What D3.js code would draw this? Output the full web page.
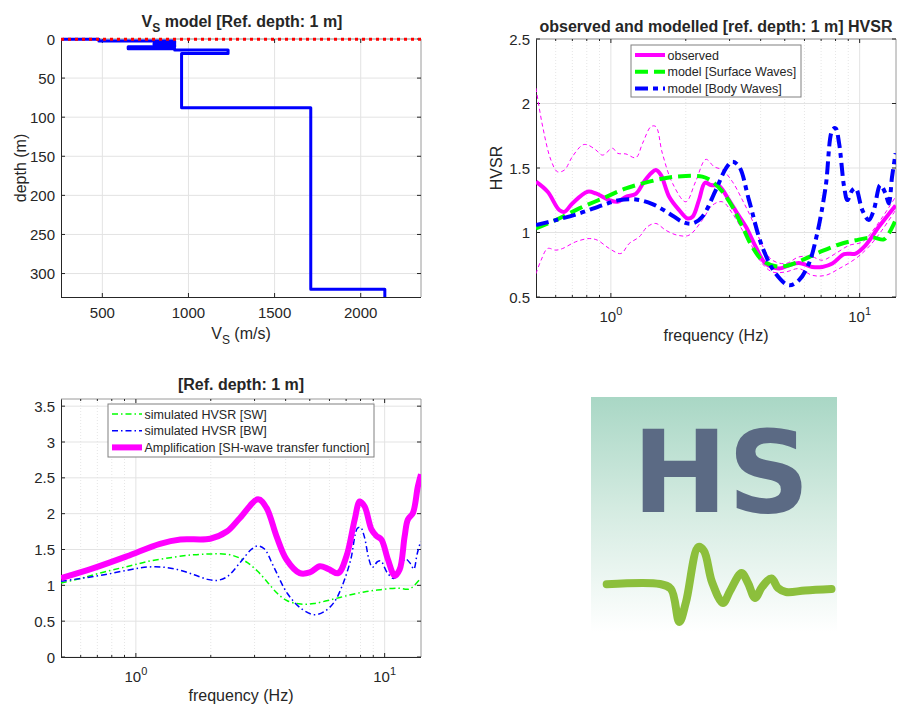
<!DOCTYPE html>
<html>
<head>
<meta charset="utf-8">
<script src="https://cdn.jsdelivr.net/npm/d3@7"></script>
<style>
body { margin: 0; background: #fff; }
text { font-family: "Liberation Sans", Arial, Helvetica, sans-serif; fill: #262626; }
</style>
</head>
<body>
<svg id="fig" width="897" height="704"></svg>
<script>
// ---- Vs profile (layer velocity, layer top depth) ----
var vsLayerVs  = [270, 480, 920, 800, 920, 650, 920, 1230, 960, 1710, 2140];
var vsLayerTop = [0, 0.3, 2.6, 5.6, 7, 9.8, 12.4, 14, 18.4, 88, 320];
var vsHalfspaceBottom = 340;
var refDepth = 1;
var vsTicks = [500, 1000, 1500, 2000];
var depthTicks = [0, 50, 100, 150, 200, 250, 300];

// ---- observed HVSR with +/- std ----
var freqObs = [0.5, 0.557, 0.62, 0.65, 0.70, 0.806, 0.87, 0.985, 1.064, 1.149, 1.26, 1.36, 1.45, 1.516, 1.588, 1.715, 1.88, 2.03, 2.13, 2.26, 2.39, 2.52, 2.72, 2.985, 3.22, 3.49, 3.82, 4.19, 4.74, 5.2, 5.7, 6.45, 7.08, 7.77, 8.66, 9.64, 10.56, 11.94, 13.95];
var hvObs   = [1.394, 1.316, 1.174, 1.16, 1.225, 1.316, 1.303, 1.251, 1.238, 1.277, 1.30, 1.394, 1.459, 1.484, 1.446, 1.277, 1.174, 1.109, 1.122, 1.251, 1.386, 1.368, 1.36, 1.251, 1.148, 1.044, 0.889, 0.759, 0.72, 0.746, 0.764, 0.733, 0.733, 0.759, 0.832, 0.837, 0.90, 1.044, 1.21];

var freqHi = [0.5, 0.532, 0.574, 0.61, 0.65, 0.70, 0.77, 0.806, 0.87, 0.926, 1.015, 1.064, 1.149, 1.26, 1.34, 1.45, 1.516, 1.61, 1.77, 2.0, 2.19, 2.41, 2.6, 2.81, 3.08, 3.38, 3.7, 4.06, 4.46, 5.04, 5.7, 6.45, 7.08, 8.0, 9.06, 10.25, 11.6, 13.95];
var hvHi   = [2.119, 1.82, 1.562, 1.471, 1.484, 1.588, 1.679, 1.679, 1.64, 1.60, 1.653, 1.614, 1.609, 1.58, 1.69, 1.821, 1.821, 1.614, 1.381, 1.238, 1.394, 1.567, 1.51, 1.484, 1.394, 1.251, 1.096, 0.90, 0.785, 0.759, 0.811, 0.811, 0.785, 0.837, 0.90, 0.927, 1.044, 1.277];

var freqLo = [0.5, 0.524, 0.557, 0.60, 0.64, 0.72, 0.818, 0.884, 0.985, 1.097, 1.185, 1.30, 1.40, 1.516, 1.66, 1.85, 2.06, 2.33, 2.56, 2.81, 3.08, 3.38, 3.7, 4.06, 4.46, 5.04, 5.7, 6.45, 7.3, 8.27, 9.64, 10.88, 12.3, 13.95];
var hvLo   = [0.681, 0.785, 0.876, 0.863, 0.876, 0.927, 0.953, 0.94, 0.876, 0.837, 0.915, 0.966, 1.044, 1.07, 1.018, 0.979, 0.979, 1.096, 1.212, 1.238, 1.148, 1.018, 0.889, 0.759, 0.694, 0.694, 0.72, 0.668, 0.668, 0.72, 0.798, 0.889, 1.018, 1.174];

// ---- modelled HVSR ----
var freqSW = [0.5, 0.60, 0.746, 0.926, 1.149, 1.426, 1.715, 2.0, 2.33, 2.56, 2.81, 3.08, 3.38, 3.7, 4.06, 4.6, 5.2, 6.06, 7.08, 8.27, 9.64, 11.24, 12.5, 13.1, 13.95];
var hvSW   = [1.031, 1.096, 1.187, 1.264, 1.342, 1.394, 1.427, 1.438, 1.433, 1.394, 1.316, 1.199, 1.044, 0.889, 0.785, 0.738, 0.746, 0.798, 0.857, 0.907, 0.94, 0.961, 0.946, 0.992, 1.096];

var freqBW = [0.5, 0.60, 0.746, 0.926, 1.08, 1.26, 1.47, 1.715, 1.94, 2.13, 2.33, 2.64, 2.9, 3.08, 3.28, 3.59, 4.06, 4.6, 5.2, 5.7, 6.25, 6.75, 7.3, 7.77, 8.0, 8.27, 8.66, 8.93, 9.35, 9.64, 10.25, 10.88, 11.4, 12.1, 12.7, 13.1, 13.5, 13.95];
var hvBW   = [1.057, 1.096, 1.148, 1.212, 1.251, 1.256, 1.22, 1.148, 1.083, 1.07, 1.122, 1.329, 1.497, 1.549, 1.51, 1.251, 0.889, 0.681, 0.591, 0.63, 0.759, 0.992, 1.355, 1.795, 1.808, 1.69, 1.355, 1.251, 1.329, 1.342, 1.174, 1.096, 1.174, 1.368, 1.303, 1.225, 1.433, 1.614];

// ---- SH-wave transfer function ----
var freqAmp = [0.5, 0.676, 0.92, 1.25, 1.51, 1.99, 2.32, 2.62, 3.10, 3.35, 3.68, 4.03, 4.56, 5.0, 5.49, 5.92, 6.5, 7.02, 7.58, 7.94, 8.31, 8.85, 9.26, 9.70, 10.31, 10.97, 11.49, 12.03, 12.4, 12.99, 13.6, 14.0];
var amp     = [1.10, 1.24, 1.405, 1.58, 1.64, 1.65, 1.75, 1.94, 2.20, 2.08, 1.68, 1.36, 1.17, 1.18, 1.265, 1.23, 1.17, 1.405, 1.92, 2.17, 2.10, 1.78, 1.69, 1.64, 1.36, 1.135, 1.22, 1.68, 1.92, 2.01, 2.38, 2.55];

var freqMajor = [1, 10];
var freqMinor = [0.6, 0.7, 0.8, 0.9, 2, 3, 4, 5, 6, 7, 8, 9];
var hvTicks = [0.5, 1, 1.5, 2, 2.5];
var ampTicks = [0, 0.5, 1, 1.5, 2, 2.5, 3, 3.5];

var svg = d3.select("#fig");
var AX = "#262626", GRID = "#e3e3e3";
var TICK_FS = 15, LABEL_FS = 16, TITLE_FS = 16;
var clipId = 0;

function zip(xs, ys) { return xs.map(function (d, i) { return [d, ys[i]]; }); }

function drawFrame(g, x, y, cfg) {
    var l = d3.min(x.range()), r = d3.max(x.range()),
        t = d3.min(y.range()), b = d3.max(y.range());
    var grid = g.append("g");
    if (cfg.xMinor) {
        grid.selectAll("line.xm").data(cfg.xMinor).enter().append("line")
            .attr("x1", x).attr("x2", x).attr("y1", t).attr("y2", b)
            .attr("stroke", "#e6e6e6").attr("stroke-dasharray", "1,2");
    }
    grid.selectAll("line.xg").data(cfg.xTicks).enter().append("line")
        .attr("x1", x).attr("x2", x).attr("y1", t).attr("y2", b).attr("stroke", GRID);
    grid.selectAll("line.yg").data(cfg.yTicks).enter().append("line")
        .attr("x1", l).attr("x2", r).attr("y1", y).attr("y2", y).attr("stroke", GRID);

    // box
    g.append("line").attr("x1", l + 0.5).attr("x2", l + 0.5).attr("y1", t).attr("y2", b + 0.5).attr("stroke", AX);
    g.append("line").attr("x1", l).attr("x2", r).attr("y1", b + 0.5).attr("y2", b + 0.5).attr("stroke", AX);
    g.append("line").attr("x1", r).attr("x2", r).attr("y1", t).attr("y2", b).attr("stroke", "#9a9a9a");
    g.append("line").attr("x1", l).attr("x2", r).attr("y1", t).attr("y2", t).attr("stroke", "#9a9a9a");

    // inward ticks on all sides
    var tk = g.append("g").attr("stroke", AX);
    var minor = cfg.xMinor || [];
    [[cfg.xTicks, 4], [minor, 2]].forEach(function (p) {
        tk.selectAll(null).data(p[0]).enter().append("line")
            .attr("x1", x).attr("x2", x).attr("y1", b).attr("y2", b - p[1]);
        tk.selectAll(null).data(p[0]).enter().append("line")
            .attr("x1", x).attr("x2", x).attr("y1", t).attr("y2", t + p[1]);
    });
    tk.selectAll(null).data(cfg.yTicks).enter().append("line")
        .attr("x1", l).attr("x2", l + 4).attr("y1", y).attr("y2", y);
    tk.selectAll(null).data(cfg.yTicks).enter().append("line")
        .attr("x1", r).attr("x2", r - 4).attr("y1", y).attr("y2", y);

    // tick labels
    var xl = g.append("g").selectAll("text").data(cfg.xTicks).enter().append("text")
        .attr("x", x).attr("y", b + cfg.xLabelDy).attr("text-anchor", "middle")
        .attr("font-size", TICK_FS);
    if (cfg.logX) {
        xl.each(function (d) {
            var s = d3.select(this);
            s.append("tspan").text("10");
            s.append("tspan").attr("dy", -7).attr("font-size", 11).text(Math.round(Math.log10(d)));
        });
    } else {
        xl.text(function (d) { return d; });
    }
    g.append("g").selectAll("text").data(cfg.yTicks).enter().append("text")
        .attr("x", l - 6).attr("y", function (d) { return y(d) + 5.5; })
        .attr("text-anchor", "end").attr("font-size", TICK_FS)
        .text(function (d) { return d; });

    clipId += 1;
    g.append("clipPath").attr("id", "clip" + clipId)
        .append("rect").attr("x", l).attr("y", t - 2).attr("width", r - l).attr("height", b - t + 2);
    return g.append("g").attr("clip-path", "url(#clip" + clipId + ")");
}

function curve(plot, x, y, data, color, width, dash) {
    var line = d3.line().x(function (d) { return x(d[0]); }).y(function (d) { return y(d[1]); })
        .curve(d3.curveCatmullRom.alpha(0.5));
    plot.append("path").datum(data).attr("d", line)
        .attr("fill", "none").attr("stroke", color).attr("stroke-width", width)
        .attr("stroke-dasharray", dash || null).attr("stroke-linejoin", "round");
}

function legend(g, x0, y0, w, h, rows, rowH, fontSize) {
    var lg = g.append("g");
    lg.append("rect").attr("x", x0).attr("y", y0).attr("width", w).attr("height", h)
        .attr("fill", "#fff").attr("stroke", "#808080").attr("stroke-width", 1);
    var row = lg.selectAll("g").data(rows).enter().append("g")
        .attr("transform", function (d, i) { return "translate(0," + (y0 + 10 + i * rowH) + ")"; });
    row.append("line").attr("x1", x0 + 4).attr("x2", x0 + 34).attr("y1", 0).attr("y2", 0)
        .attr("stroke", function (d) { return d.color; })
        .attr("stroke-width", function (d) { return d.width; })
        .attr("stroke-dasharray", function (d) { return d.dash || null; });
    row.append("text").attr("x", x0 + 36.5).attr("y", 4.5).attr("font-size", fontSize)
        .text(function (d) { return d.label; });
}

// ================= panel 1: Vs model =================
(function () {
    var g = svg.append("g");
    var x = d3.scaleLinear().domain([260, 2350]).range([61, 421]);
    var y = d3.scaleLinear().domain([0, 330]).range([39, 297]);
    var plot = drawFrame(g, x, y, { xTicks: vsTicks, yTicks: depthTicks, xLabelDy: 21 });

    var pts = [[vsLayerVs[0], 0]];
    vsLayerVs.forEach(function (v, i) {
        var bottom = i + 1 < vsLayerTop.length ? vsLayerTop[i + 1] : vsHalfspaceBottom;
        pts.push([v, vsLayerTop[i]], [v, bottom]);
    });
    plot.append("path").datum(pts)
        .attr("d", d3.line().x(function (d) { return x(d[0]); }).y(function (d) { return y(d[1]); }))
        .attr("fill", "none").attr("stroke", "#0000ff").attr("stroke-width", 3)
        .attr("stroke-linejoin", "round");
    g.append("line").attr("x1", x.range()[0]).attr("x2", x.range()[1])
        .attr("y1", y(refDepth) - 0.5).attr("y2", y(refDepth) - 0.5)
        .attr("stroke", "#ff0000").attr("stroke-width", 3).attr("stroke-dasharray", "3,4");

    var title = g.append("text").attr("x", 242).attr("y", 27).attr("text-anchor", "middle")
        .attr("font-size", TITLE_FS).attr("font-weight", "bold");
    title.append("tspan").text("V");
    title.append("tspan").attr("dy", 5).attr("font-size", 12).text("S");
    title.append("tspan").attr("dy", -5).text(" model [Ref. depth: 1 m]");

    var xl = g.append("text").attr("x", 241).attr("y", 339).attr("text-anchor", "middle").attr("font-size", LABEL_FS);
    xl.append("tspan").text("V");
    xl.append("tspan").attr("dy", 5).attr("font-size", 12).text("S");
    xl.append("tspan").attr("dy", -5).text(" (m/s)");

    g.append("text").attr("transform", "translate(26,168) rotate(-90)").attr("text-anchor", "middle")
        .attr("font-size", LABEL_FS).text("depth (m)");
})();

// ================= panel 2: observed vs modelled HVSR =================
(function () {
    var g = svg.append("g");
    var x = d3.scaleLog().domain([0.5, 14]).range([536, 896]);
    var y = d3.scaleLinear().domain([0.5, 2.5]).range([297, 39]);
    var plot = drawFrame(g, x, y, { xTicks: freqMajor, xMinor: freqMinor, yTicks: hvTicks, logX: true, xLabelDy: 25 });

    curve(plot, x, y, zip(freqHi, hvHi), "#ff00ff", 1, "4,3");
    curve(plot, x, y, zip(freqLo, hvLo), "#ff00ff", 1, "4,3");
    curve(plot, x, y, zip(freqObs, hvObs), "#ff00ff", 4);
    curve(plot, x, y, zip(freqSW, hvSW), "#00ff00", 4, "13,6");
    curve(plot, x, y, zip(freqBW, hvBW), "#0000ff", 4, "13,5,5,5");

    legend(g, 631, 45, 170, 52, [
        { label: "observed", color: "#ff00ff", width: 4 },
        { label: "model [Surface Waves]", color: "#00ff00", width: 4, dash: "13,6" },
        { label: "model [Body Waves]", color: "#0000ff", width: 4, dash: "13,5,5,5" }
    ], 16.7, 12.5);

    g.append("text").attr("x", 716).attr("y", 32).attr("text-anchor", "middle")
        .attr("font-size", TITLE_FS).attr("font-weight", "bold")
        .text("observed and modelled [ref. depth: 1 m] HVSR");
    g.append("text").attr("x", 716).attr("y", 341).attr("text-anchor", "middle")
        .attr("font-size", LABEL_FS).text("frequency (Hz)");
    g.append("text").attr("transform", "translate(502,168) rotate(-90)").attr("text-anchor", "middle")
        .attr("font-size", LABEL_FS).text("HVSR");
})();

// ================= panel 3: simulated HVSR vs SH transfer function =================
(function () {
    var g = svg.append("g");
    var x = d3.scaleLog().domain([0.5, 14]).range([61, 421]);
    var y = d3.scaleLinear().domain([0, 3.6]).range([657, 399]);
    var plot = drawFrame(g, x, y, { xTicks: freqMajor, xMinor: freqMinor, yTicks: ampTicks, logX: true, xLabelDy: 25 });

    curve(plot, x, y, zip(freqSW, hvSW), "#00ff00", 1.5, "6,3,1.5,3");
    curve(plot, x, y, zip(freqBW, hvBW), "#0000ff", 1.5, "6,3,1.5,3");
    curve(plot, x, y, zip(freqAmp, amp), "#ff00ff", 6);

    legend(g, 108, 404, 266, 53, [
        { label: "simulated HVSR [SW]", color: "#00ff00", width: 1.5, dash: "6,3,1.5,3" },
        { label: "simulated HVSR [BW]", color: "#0000ff", width: 1.5, dash: "6,3,1.5,3" },
        { label: "Amplification [SH-wave transfer function]", color: "#ff00ff", width: 6 }
    ], 16.7, 12.5);

    g.append("text").attr("x", 241).attr("y", 390).attr("text-anchor", "middle")
        .attr("font-size", TITLE_FS).attr("font-weight", "bold").text("[Ref. depth: 1 m]");
    g.append("text").attr("x", 241).attr("y", 701).attr("text-anchor", "middle")
        .attr("font-size", LABEL_FS).text("frequency (Hz)");
})();

// ================= logo =================
(function () {
    var g = svg.append("g");
    var grad = svg.append("defs").append("linearGradient").attr("id", "logoBg")
        .attr("x1", 0).attr("y1", 0).attr("x2", 0).attr("y2", 1);
    grad.append("stop").attr("offset", 0).attr("stop-color", "#a9d7c5");
    grad.append("stop").attr("offset", 0.45).attr("stop-color", "#d4ebe1");
    grad.append("stop").attr("offset", 0.95).attr("stop-color", "#ffffff");
    g.append("rect").attr("x", 591).attr("y", 397).attr("width", 246).attr("height", 248)
        .attr("fill", "url(#logoBg)");
    g.append("text").attr("x", 721).attr("y", 512).attr("text-anchor", "middle")
        .style("font-family", "'DejaVu Sans', sans-serif").style("fill", "#5b6a84")
        .attr("font-size", 114).attr("font-weight", "bold").text("HS");
    var wave = [[606.7, 584.3], [660, 584], [671, 589], [679.3, 622], [686, 602], [698.3, 547],
        [704, 551], [712, 582], [723, 603], [730, 591], [741.5, 573], [748, 583], [755, 598],
        [762, 587], [771.5, 578.5], [778, 588], [786, 592], [805, 590.5], [831.5, 589]];
    g.append("path").datum(wave)
        .attr("d", d3.line().curve(d3.curveCatmullRom.alpha(0.5)))
        .attr("fill", "none").attr("stroke", "#8cbf3c").attr("stroke-width", 8)
        .attr("stroke-linecap", "round").attr("stroke-linejoin", "round");
})();
</script>
</body>
</html>
